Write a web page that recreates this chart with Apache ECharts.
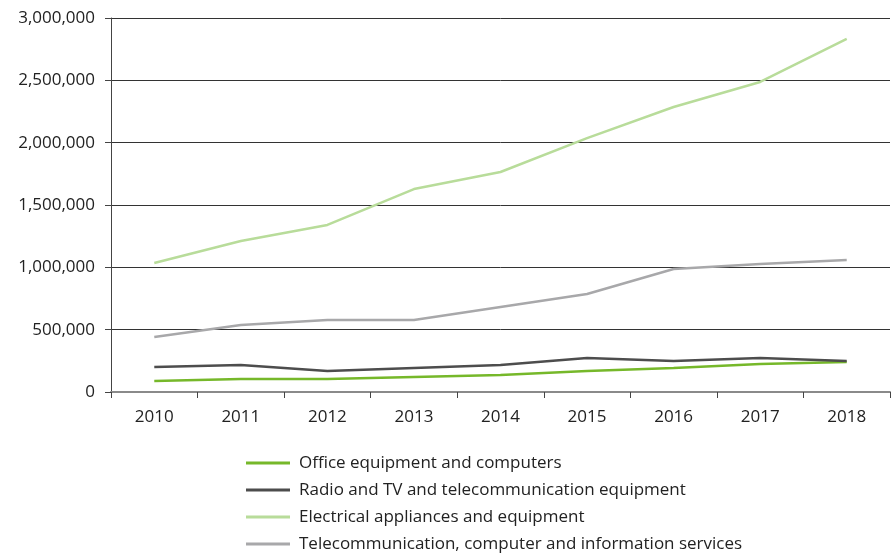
<!DOCTYPE html>
<html><head><meta charset="utf-8">
<script src="https://cdn.jsdelivr.net/npm/echarts@6/dist/echarts.min.js"></script>
<style>html,body{margin:0;padding:0;background:#fff}#c{width:896px;height:555px}</style>
</head><body><div id="c"></div>
<script>
const years = ['2010','2011','2012','2013','2014','2015','2016','2017','2018'];
const office = [88000,104000,104000,120000,136000,168000,193000,225000,241000];
const radio = [200000,217000,168000,193000,217000,273000,249000,273000,249000];
const electrical = [1035000,1211000,1340000,1628000,1765000,2037000,2286000,2487000,2832000];
const telecom = [441000,537000,578000,578000,682000,786000,987000,1027000,1059000];
const names = ['Office equipment and computers','Radio and TV and telecommunication equipment','Electrical appliances and equipment','Telecommunication, computer and information services'];
const colors = ['#76b82a','#4d4d4d','#b8dc9a','#a8a8aa'];
const font = 'Open Sans';
const chart = echarts.init(document.getElementById('c'));
const mk = (i, d) => ({name:names[i], type:'line', data:d, symbol:'none', lineStyle:{color:colors[i], width:2.5}, itemStyle:{color:colors[i]}, z: 3});
chart.setOption({
  animation:false,
  textStyle:{fontFamily:font},
  grid:{left:111, right:6, top:18, bottom:163},
  xAxis:{type:'category', data:years, boundaryGap:true,
    axisLine:{lineStyle:{color:'#8a8a8a', width:2}},
    axisTick:{show:true, length:6, lineStyle:{color:'#444', width:1}},
    axisLabel:{color:'#222', fontSize:17, fontFamily:font, margin:17}},
  yAxis:{type:'value', min:0, max:3000000, interval:500000,
    axisLine:{show:true, lineStyle:{color:'#444', width:1}},
    axisTick:{show:true, length:6, lineStyle:{color:'#444'}},
    splitLine:{lineStyle:{color:'#333', width:1}},
    axisLabel:{color:'#222', fontSize:17, fontFamily:font, margin:16,
      formatter:v=>v.toLocaleString('en-US')}},
  legend:{orient:'vertical', left:246, top:453, height:102, padding:0, itemGap:7, itemWidth:44, itemHeight:3, icon:'rect',
    textStyle:{fontSize:17, lineHeight:20, color:'#222', fontFamily:font, padding:[0,0,0,4]},
    data:names},
  series:[mk(0,office), mk(1,radio), mk(2,electrical), mk(3,telecom)]
});
</script></body></html>
